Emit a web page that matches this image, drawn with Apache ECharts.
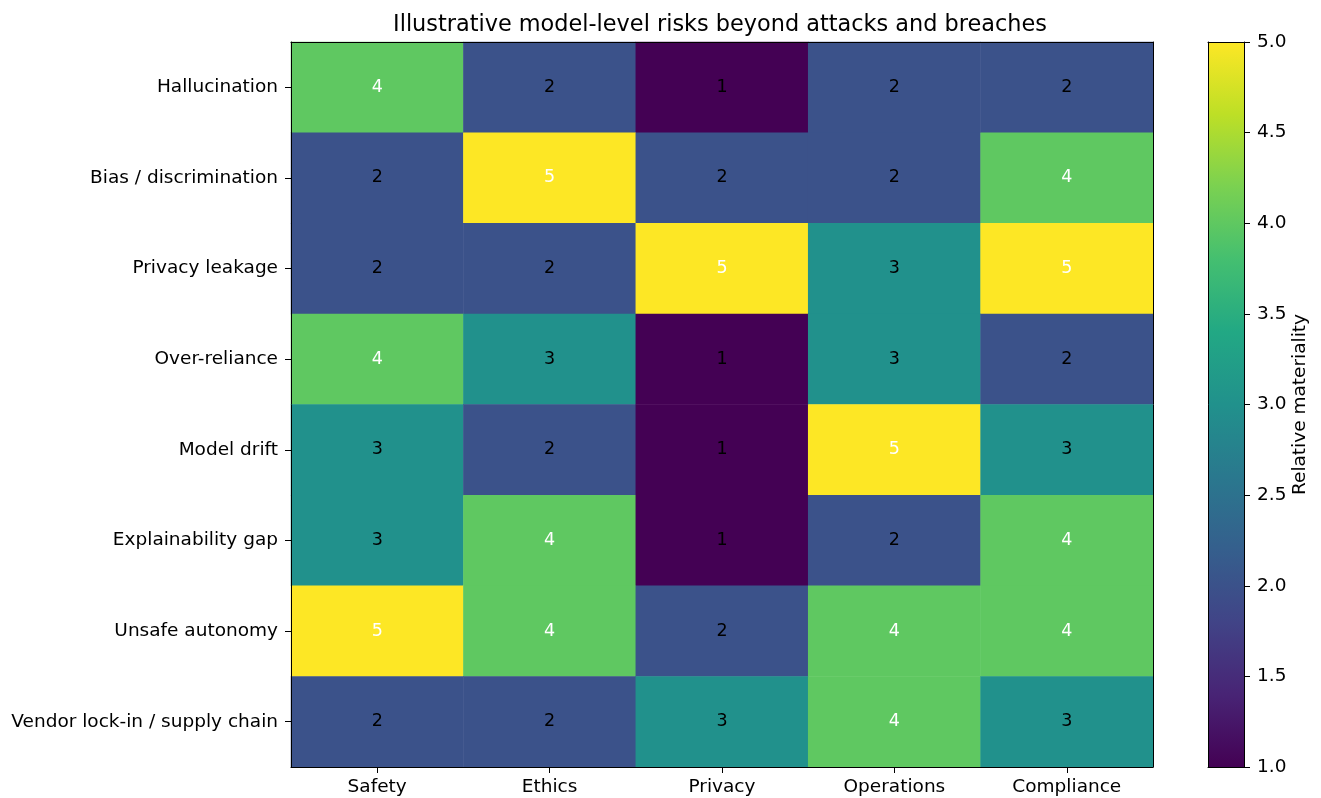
<!DOCTYPE html>
<html>
<head>
<meta charset="utf-8">
<script src="https://cdn.jsdelivr.net/npm/echarts@6/dist/echarts.min.js"></script>
<style>html,body{margin:0;padding:0;background:#fff}#c{width:1321px;height:798px}</style>
</head>
<body>
<div id="c"></div>
<script>
const titleText = 'Illustrative model-level risks beyond attacks and breaches';
const columns = ['Safety', 'Ethics', 'Privacy', 'Operations', 'Compliance'];
const rows = ['Hallucination', 'Bias / discrimination', 'Privacy leakage', 'Over-reliance', 'Model drift', 'Explainability gap', 'Unsafe autonomy', 'Vendor lock-in / supply chain'];
const hallucination = [4, 2, 1, 2, 2];
const bias = [2, 5, 2, 2, 4];
const privacyLeakage = [2, 2, 5, 3, 5];
const overReliance = [4, 3, 1, 3, 2];
const modelDrift = [3, 2, 1, 5, 3];
const explainability = [3, 4, 1, 2, 4];
const unsafeAutonomy = [5, 4, 2, 4, 4];
const vendorLockIn = [2, 2, 3, 4, 3];
const colorbarName = 'Relative materiality';
const cbMin = 1, cbMax = 5, cbStep = 0.5;

const matrix = [hallucination, bias, privacyLeakage, overReliance, modelDrift, explainability, unsafeAutonomy, vendorLockIn];
const viridis = ['#440154', '#482475', '#414487', '#355f8d', '#2a788e', '#21918c', '#22a884', '#44bf70', '#7ad151', '#bddf26', '#fde725'];

const data = [];
matrix.forEach((row, r) => row.forEach((v, c) => {
  data.push({ value: [c, r, v], label: { color: v >= 4 ? '#ffffff' : '#000000' } });
}));

const FONT = 'DejaVu Sans';
const FS = 18.5;
const CELL_FS = 17.5;
const lineStyle = { color: '#000', width: 1 };

const chart = echarts.init(document.getElementById('c'), null, { renderer: 'canvas' });
chart.setOption({
  animation: false,
  backgroundColor: '#fff',
  textStyle: { fontFamily: FONT },
  title: {
    text: titleText, left: 715, textAlign: 'center', top: 9,
    textStyle: { fontFamily: FONT, fontSize: 22.4, fontWeight: 'normal', color: '#000' }
  },
  grid: [
    { left: 291, right: 168, top: 42, bottom: 31 },
    { left: 1208, right: 77, top: 42, bottom: 31 }
  ],
  xAxis: [
    { gridIndex: 0, type: 'category', data: columns, position: 'bottom', z: 10,
      axisLine: { show: true, lineStyle }, axisTick: { show: true, length: 6, alignWithLabel: true, lineStyle },
      axisLabel: { color: '#000', fontSize: FS, fontFamily: FONT, margin: 11 }, splitLine: { show: false } },
    { gridIndex: 0, type: 'category', data: columns, position: 'top', z: 10,
      axisLine: { show: true, lineStyle }, axisTick: { show: false }, axisLabel: { show: false }, splitLine: { show: false } },
    { gridIndex: 1, type: 'category', data: ['cb'], position: 'bottom', z: 10,
      axisLine: { show: true, lineStyle }, axisTick: { show: false }, axisLabel: { show: false }, splitLine: { show: false } },
    { gridIndex: 1, type: 'category', data: ['cb'], position: 'top', z: 10,
      axisLine: { show: true, lineStyle }, axisTick: { show: false }, axisLabel: { show: false }, splitLine: { show: false } }
  ],
  yAxis: [
    { gridIndex: 0, type: 'category', data: rows, inverse: true, position: 'left', z: 10,
      axisLine: { show: true, lineStyle }, axisTick: { show: true, length: 6, alignWithLabel: true, lineStyle },
      axisLabel: { color: '#000', fontSize: FS, fontFamily: FONT, margin: 13 }, splitLine: { show: false } },
    { gridIndex: 0, type: 'category', data: rows, inverse: true, position: 'right', z: 10,
      axisLine: { show: true, lineStyle }, axisTick: { show: false }, axisLabel: { show: false }, splitLine: { show: false } },
    { gridIndex: 1, type: 'value', min: cbMin, max: cbMax, interval: cbStep, position: 'right', z: 10,
      axisLine: { show: true, lineStyle }, axisTick: { show: true, length: 6, lineStyle },
      axisLabel: { color: '#000', fontSize: FS, fontFamily: FONT, margin: 13, formatter: v => v.toFixed(1) },
      splitLine: { show: false },
      name: colorbarName, nameLocation: 'middle', nameRotate: 90, nameGap: 47,
      nameTextStyle: { color: '#000', fontSize: FS, fontFamily: FONT } },
    { gridIndex: 1, type: 'value', min: cbMin, max: cbMax, position: 'left', z: 10,
      axisLine: { show: true, lineStyle }, axisTick: { show: false }, axisLabel: { show: false }, splitLine: { show: false } }
  ],
  visualMap: {
    show: false, type: 'continuous', min: cbMin, max: cbMax, seriesIndex: 0, dimension: 2,
    inRange: { color: viridis }
  },
  series: [
    { type: 'heatmap', xAxisIndex: 0, yAxisIndex: 0, data: data, silent: true,
      label: { show: true, fontSize: CELL_FS, fontFamily: FONT, formatter: p => String(p.value[2]) },
      itemStyle: { borderWidth: 0 } },
    { type: 'bar', xAxisIndex: 2, yAxisIndex: 2, stack: 'cb', data: [cbMin], silent: true,
      barWidth: '100%', itemStyle: { color: 'rgba(0,0,0,0)' } },
    { type: 'bar', xAxisIndex: 2, yAxisIndex: 2, stack: 'cb', data: [cbMax - cbMin], silent: true,
      barWidth: '100%',
      itemStyle: { color: new echarts.graphic.LinearGradient(0, 1, 0, 0,
        viridis.map((c, i) => ({ offset: i / (viridis.length - 1), color: c }))) } }
  ]
});
</script>
</body>
</html>
